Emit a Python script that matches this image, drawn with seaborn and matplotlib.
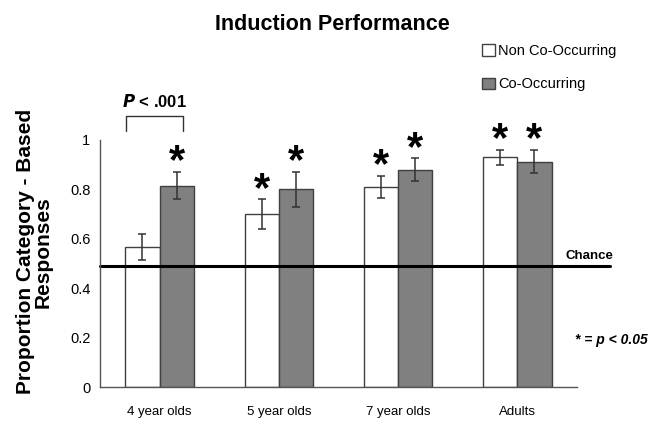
import numpy as np
import pandas as pd
import matplotlib
matplotlib.use("Agg")
import matplotlib.pyplot as plt
import seaborn as sns
from matplotlib.patches import Patch

# dados
grupos = ["4 year olds", "5 year olds", "7 year olds", "Adults"]
condicoes = ["Non Co-Occurring", "Co-Occurring"]
media_non = [0.566, 0.699, 0.808, 0.930]
media_co = [0.815, 0.800, 0.879, 0.912]
erro_non = [0.053, 0.060, 0.045, 0.030]
erro_co = [0.056, 0.071, 0.046, 0.047]
# asterisco de significancia (vs. acaso)
signif_non = [False, True, True, True]
signif_co = [True, True, True, True]
chance = 0.49
yticks = [0, 0.2, 0.4, 0.6, 0.8, 1]

df = pd.DataFrame({
    "Grupo": grupos * 2,
    "Condicao": [condicoes[0]] * 4 + [condicoes[1]] * 4,
    "Media": media_non + media_co,
})

sns.set_style("white")
plt.rcParams["font.family"] = ["Liberation Sans", "DejaVu Sans"]
plt.rcParams["text.color"] = "black"
plt.rcParams["axes.labelcolor"] = "black"
plt.rcParams["xtick.color"] = "black"
plt.rcParams["ytick.color"] = "black"

fig = plt.figure(figsize=(6.68, 4.29), dpi=100)
ax = fig.add_axes([0.1497, 0.0979, 0.714, 0.576])

sns.barplot(data=df, x="Grupo", y="Media", hue="Condicao",
            palette={condicoes[0]: "white", condicoes[1]: "#808080"},
            edgecolor="#404040", linewidth=1.0, width=0.575,
            errorbar=None, legend=False, ax=ax)

barras = [list(c) for c in ax.containers[:2]]
erros = [erro_non, erro_co]
medias = [media_non, media_co]
signif = [signif_non, signif_co]
for h, cont in enumerate(barras):
    for i, barra in enumerate(cont):
        xc = barra.get_x() + barra.get_width() / 2
        ax.errorbar(xc, medias[h][i], yerr=erros[h][i], fmt="none",
                    ecolor="#333333", elinewidth=1.1, capsize=3, capthick=1.1)
        if signif[h][i]:
            ax.text(xc, medias[h][i] + erros[h][i] - 0.005, "*", ha="center",
                    va="baseline", fontsize=30, fontweight="bold", clip_on=False)

ax.set_xlim(-0.5, 3.5)
ax.set_ylim(0, 1)
ax.set_yticks(yticks)
ax.set_yticklabels([f"{v:g}" for v in yticks], fontsize=10.5)
ax.set_xticks([-0.5, 0.5, 1.5, 2.5, 3.5])
ax.set_xticklabels([])
ax.set_xticks(range(4), minor=True)
ax.set_xticklabels(grupos, minor=True, fontsize=9.5)
ax.tick_params(axis="x", which="major", direction="out", length=6, color="#555555")
ax.tick_params(axis="x", which="minor", length=0, pad=14)
ax.tick_params(axis="y", direction="out", length=4, color="#555555", pad=3)
ax.set_xlabel("")
ax.set_ylabel("Proportion Category - Based\nResponses", fontsize=15,
              fontweight="bold", linespacing=0.95)
ax.yaxis.set_label_coords(-0.0985, 0.547)
for s in ["top", "right"]:
    ax.spines[s].set_visible(False)
for s in ["left", "bottom"]:
    ax.spines[s].set_color("#555555")
    ax.spines[s].set_linewidth(1.0)

# linha de acaso
ax.axhline(chance, xmin=0, xmax=1.069, color="black", linewidth=2.2, clip_on=False)
ax.text(3.605, chance + 0.03, "Chance", ha="center", va="baseline",
        fontsize=9.5, fontweight="bold")
ax.text(3.79, 0.19, "* = p < 0.05", ha="center", va="center",
        fontsize=10, fontweight="bold", style="italic")

# colchete de significancia
c0 = barras[0][0]
c1 = barras[1][0]
xa = c0.get_x() + c0.get_width() * 0.02
xb = c1.get_x() + c1.get_width() * 0.68
ax.plot([xa, xa, xb, xb], [1.038, 1.098, 1.098, 1.038], color="#333333",
        linewidth=1.0, clip_on=False)
ax.text((xa + xb) / 2, 1.12, r"$\boldsymbol{P}$ < .001", ha="center",
        va="bottom", fontsize=12, fontweight="bold", clip_on=False)

fig.text(0.497, 0.944, "Induction Performance", ha="center", va="center",
         fontsize=15.5, fontweight="bold")

handles = [Patch(facecolor="white", edgecolor="#404040", label=condicoes[0]),
           Patch(facecolor="#808080", edgecolor="#404040", label=condicoes[1])]
fig.legend(handles=handles, loc="upper left", bbox_to_anchor=(0.722, 0.898),
           frameon=False, prop={"size": 10.5}, borderaxespad=0, borderpad=0,
           handlelength=0.85, handleheight=0.85, handletextpad=0.25,
           labelspacing=1.35)

fig.savefig("out.png", dpi=100)
